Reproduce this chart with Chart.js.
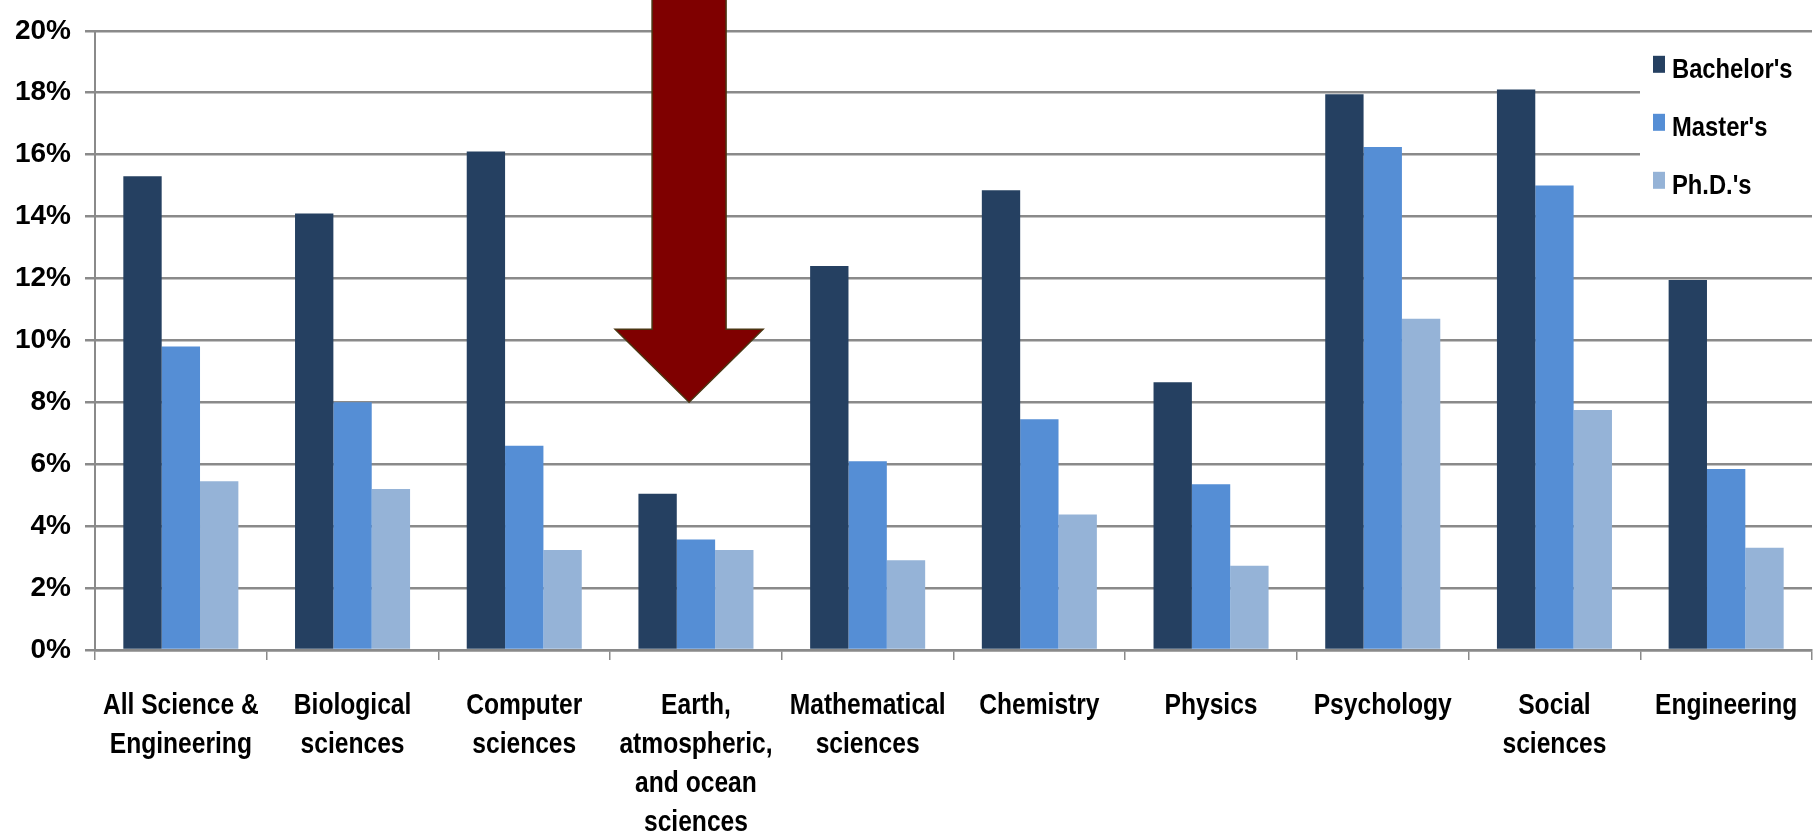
<!DOCTYPE html>
<html>
<head>
<meta charset="utf-8">
<script src="https://cdn.jsdelivr.net/npm/chart.js@4.4.1/dist/chart.umd.min.js"></script>
<style>
  html, body { margin: 0; padding: 0; background: #ffffff; }
  #wrap { width: 1820px; height: 837px; position: relative; }
</style>
</head>
<body>
<div id="wrap"><canvas id="c" width="1820" height="837"></canvas></div>
<script>
// Fields of study (multi-line labels as arrays)
const categories = [
  ["All Science &", "Engineering"],
  ["Biological", "sciences"],
  ["Computer", "sciences"],
  ["Earth,", "atmospheric,", "and ocean", "sciences"],
  ["Mathematical", "sciences"],
  ["Chemistry"],
  ["Physics"],
  ["Psychology"],
  ["Social", "sciences"],
  ["Engineering"]
];

// Percent of degrees, by level
const bachelors = [15.3, 14.1, 16.1, 5.05, 12.4, 14.85, 8.65, 17.95, 18.1, 11.95];
const masters   = [9.8, 8.0, 6.6, 3.57, 6.1, 7.45, 5.35, 16.25, 15.0, 5.85];
const phds      = [5.45, 5.2, 3.23, 3.23, 2.9, 4.38, 2.72, 10.7, 7.75, 3.3];

const seriesNames = ["Bachelor's", "Master's", "Ph.D.'s"];
const seriesColors = ["#254061", "#558ED5", "#95B3D7"];

// Y axis: 0% .. 20% in steps of 2
const yMin = 0, yMax = 20, yStep = 2;

// Highlighted field and the level the arrow points down to
const highlightIndex = 3;
const arrowTipValue = 8;

const FONT = "'Liberation Sans', Arial, sans-serif";
const GRID = "#8a8a8a";

// Draws text squeezed horizontally (narrow bold look)
function narrowText(ctx, text, x, y, squeeze, align) {
  ctx.save();
  ctx.translate(x, y);
  ctx.scale(squeeze, 1);
  ctx.textAlign = align;
  ctx.fillText(text, 0, 0);
  ctx.restore();
}

// Category labels under the x axis, placed at the axis' own tick positions
const categoryLabels = {
  id: 'categoryLabels',
  afterDraw(chart) {
    const xs = chart.scales.x;
    const ctx = chart.ctx;
    ctx.save();
    ctx.fillStyle = '#000000';
    ctx.font = "bold 30px " + FONT;
    ctx.textBaseline = 'alphabetic';
    xs.ticks.forEach((t, i) => {
      const cx = xs.getPixelForTick(i);
      const lines = [].concat(chart.data.labels[i]);
      lines.forEach((line, k) => {
        narrowText(ctx, line, cx, xs.top + 64 + k * 39, 0.82, 'center');
      });
    });
    ctx.restore();
  }
};

// Vertical legend box in the upper right corner
const sideLegend = {
  id: 'sideLegend',
  afterDraw(chart) {
    const ctx = chart.ctx;
    const area = chart.chartArea;
    ctx.save();
    ctx.fillStyle = '#ffffff';
    ctx.fillRect(area.right - 172, area.top + 8, 180, 172);
    chart.data.datasets.forEach((ds, i) => {
      const base = area.top + 47 + i * 58;
      ctx.fillStyle = ds.backgroundColor;
      ctx.fillRect(area.right - 159, base - 22, 12, 17);
      ctx.fillStyle = '#000000';
      ctx.font = "bold 27px " + FONT;
      ctx.textBaseline = 'alphabetic';
      narrowText(ctx, ds.label, area.right - 140, base, 0.88, 'left');
    });
    ctx.restore();
  }
};

// Downward arrow over the highlighted field
const downArrow = {
  id: 'downArrow',
  afterDatasetsDraw(chart) {
    const x = chart.scales.x, y = chart.scales.y;
    const catW = (x.right - x.left) / categories.length;
    const cx = x.getPixelForValue(highlightIndex) - 0.04 * catW;
    const tip = y.getPixelForValue(arrowTipValue);
    const shaftHalf = 37, headHalf = 74, headH = 73;
    const top = -5;
    const ctx = chart.ctx;
    ctx.save();
    ctx.beginPath();
    ctx.moveTo(cx - shaftHalf, top);
    ctx.lineTo(cx + shaftHalf, top);
    ctx.lineTo(cx + shaftHalf, tip - headH);
    ctx.lineTo(cx + headHalf, tip - headH);
    ctx.lineTo(cx, tip);
    ctx.lineTo(cx - headHalf, tip - headH);
    ctx.lineTo(cx - shaftHalf, tip - headH);
    ctx.closePath();
    ctx.fillStyle = '#7f0000';
    ctx.fill();
    ctx.lineWidth = 1.5;
    ctx.strokeStyle = '#4a3512';
    ctx.stroke();
    ctx.restore();
  }
};

new Chart(document.getElementById('c'), {
  type: 'bar',
  data: {
    labels: categories,
    datasets: [
      { label: seriesNames[0], data: bachelors, backgroundColor: seriesColors[0] },
      { label: seriesNames[1], data: masters,   backgroundColor: seriesColors[1] },
      { label: seriesNames[2], data: phds,      backgroundColor: seriesColors[2] }
    ]
  },
  options: {
    responsive: false,
    animation: false,
    layout: { padding: { top: 25, right: 8, left: 0, bottom: 0 } },
    datasets: { bar: { barPercentage: 1.0, categoryPercentage: 0.67 } },
    plugins: {
      legend: { display: false },
      tooltip: { enabled: false }
    },
    scales: {
      x: {
        grid: {
          offset: true,
          drawOnChartArea: false,
          drawTicks: true,
          tickLength: 10,
          color: GRID,
          lineWidth: 1.5
        },
        border: { display: true, color: GRID, width: 2.5 },
        ticks: {
          // drawn narrow by the categoryLabels plugin
          color: 'rgba(0,0,0,0)',
          font: { family: FONT, size: 20, weight: 'bold' },
          maxRotation: 0,
          autoSkip: false
        },
        afterFit(s) { s.height = 187; }
      },
      y: {
        min: yMin,
        max: yMax,
        grid: {
          color: GRID,
          lineWidth: 2.5,
          drawTicks: true,
          tickLength: 10
        },
        border: { display: true, color: GRID, width: 2 },
        ticks: {
          stepSize: yStep,
          color: '#000000',
          font: { family: FONT, size: 28, weight: 'bold' },
          padding: 14,
          callback: (v) => v + '%'
        },
        afterFit(s) { s.width = 95; }
      }
    }
  },
  plugins: [downArrow, categoryLabels, sideLegend]
});
</script>
</body>
</html>
